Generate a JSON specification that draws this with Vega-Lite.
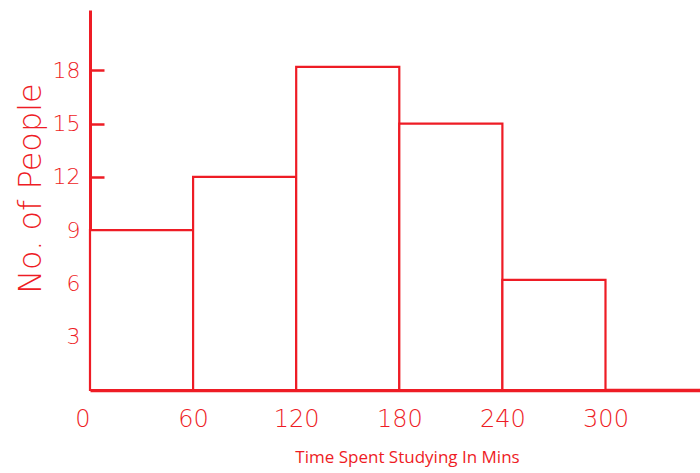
{
  "$schema": "https://vega.github.io/schema/vega-lite/v6.json",
  "width": 610,
  "height": 380,
  "autosize": {"type": "none"},
  "padding": {"left": 90, "top": 10, "right": 0, "bottom": 83},
  "background": "white",
  "config": {"view": {"stroke": null}},
  "data": {"values": [
    {"start": 0, "end": 60, "people": 9},
    {"start": 60, "end": 120, "people": 12},
    {"start": 120, "end": 180, "people": 18.2},
    {"start": 180, "end": 240, "people": 15},
    {"start": 240, "end": 300, "people": 6.2}
  ]},
  "mark": {"type": "bar", "fill": "white", "stroke": "#ee1c25", "strokeWidth": 2.2, "clip": false},
  "encoding": {
    "x": {
      "field": "start", "type": "quantitative",
      "scale": {"domain": [0, 355], "nice": false, "zero": false},
      "axis": {
        "values": [0, 60, 120, 180, 240, 300],
        "grid": false, "ticks": false,
        "domainColor": "#ee1c25", "domainWidth": 3.5,
        "labelColor": "#ee1c25", "labelFont": "DejaVu Sans", "labelFontWeight": 200,
        "labelFontSize": 24, "labelPadding": 17,
        "labelAlign": {"condition": {"test": "datum.value == 0", "value": "right"}, "value": "center"},
        "labelFlush": false,
        "title": "Time Spent Studying In Mins",
        "titleColor": "#ee1c25", "titleFont": "Open Sans", "titleFontWeight": "normal",
        "titleFontSize": 17, "titleX": 317, "titleY": 67, "titleBaseline": "middle"
      }
    },
    "x2": {"field": "end"},
    "y": {
      "field": "people", "type": "quantitative",
      "scale": {"domain": [0, 21.4], "nice": false},
      "axis": {
        "values": [3, 6, 9, 12, 15, 18],
        "grid": false,
        "domainColor": "#ee1c25", "domainWidth": 3,
        "tickColor": "#ee1c25", "tickWidth": 2.5, "tickSize": -14,
        "labelColor": "#ee1c25", "labelFont": "DejaVu Sans", "labelFontWeight": 200,
        "labelFontSize": 22, "labelPadding": 24,
        "title": "No. of People",
        "titleColor": "#ee1c25", "titleFont": "DejaVu Sans", "titleFontWeight": 200,
        "titleFontSize": 32, "titleX": -60, "titleY": 178, "titleAngle": -90,
        "titleAlign": "center", "titleBaseline": "middle"
      }
    },
    "y2": {"datum": 0}
  }
}
